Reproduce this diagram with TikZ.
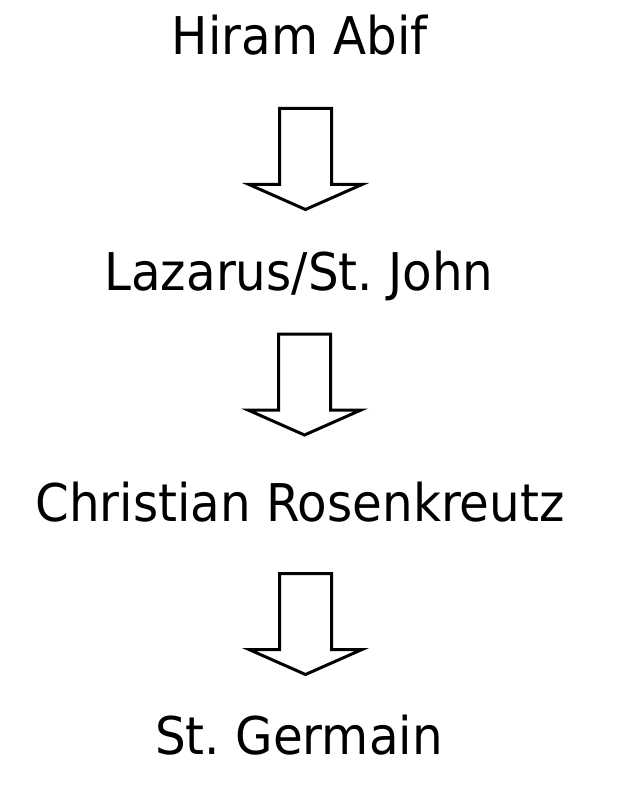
\documentclass[tikz,border=0pt]{standalone}
\usepackage{fontspec}
\setmainfont{DejaVu Sans}[FakeStretch=0.93]
\frenchspacing
\usetikzlibrary{calc}
\tikzset{
  person/.style     = { font=\fontsize{52}{60}\selectfont, inner sep=0pt, anchor=base },
  blockarrow/.style = { draw=black, line width=3pt, line join=miter },
}

\begin{document}
\begin{tikzpicture}[x=1pt,y=-1pt]
  \useasboundingbox (0,0) rectangle (629,810);

  \node (hiram)     [person] at (300,55)  {Hiram Abif};
  \node (lazarus)   [person] at (299,290) {Lazarus/St. John};
  \node (christian) [person] at (300,521) {Christian Rosenkreutz};
  \node (germain)   [person] at (299,754) {St. Germain};

  \foreach \from/\dy in {hiram/53.5, lazarus/44, christian/52.5}
    \draw [blockarrow] ($(\from.base)+(5.5,\dy)$) ++(-26,0) -- ++(52,0) -- ++(0,76)
      -- ++(30.5,0) -- ++(-56.5,25) -- ++(-56.5,-25) -- ++(30.5,0) -- cycle;
\end{tikzpicture}
\end{document}
